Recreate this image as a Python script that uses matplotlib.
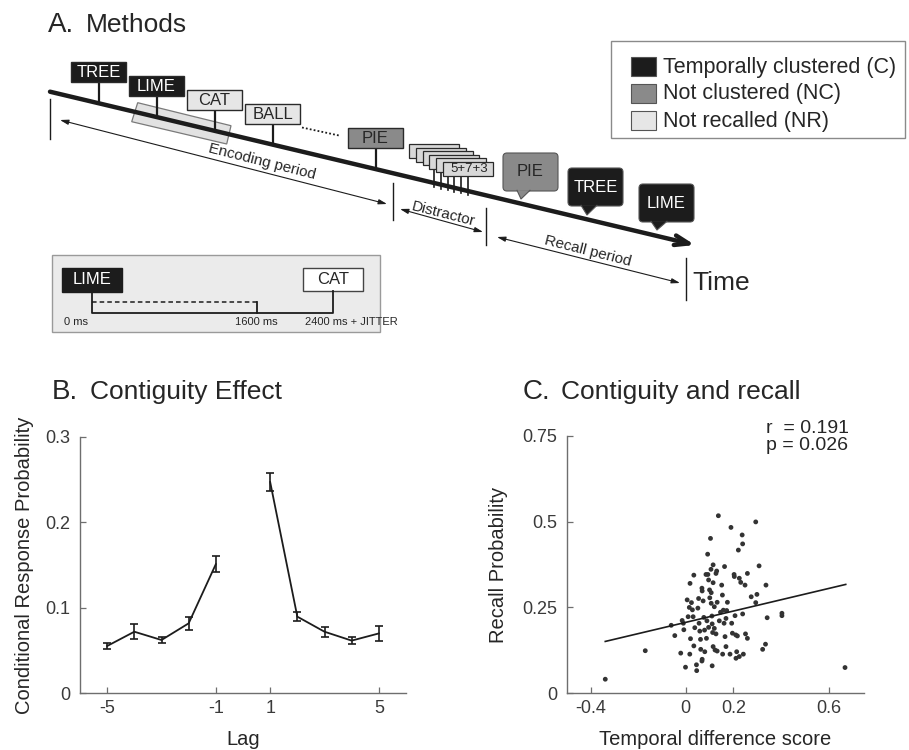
import numpy as np
import matplotlib
matplotlib.use("Agg")
import matplotlib.pyplot as plt
from matplotlib.patches import Rectangle, Polygon, FancyBboxPatch

plt.rcParams['font.family'] = ['Liberation Sans', 'DejaVu Sans']

# ---------------- data ----------------
lags = [-5, -4, -3, -2, -1, 1, 2, 3, 4, 5]
crp = [0.0553, 0.072, 0.0623, 0.0818, 0.151, 0.247, 0.0896, 0.072, 0.0616, 0.070]
crp_err = [0.004, 0.0088, 0.004, 0.0078, 0.0097, 0.011, 0.005, 0.006, 0.004, 0.0086]
lag_ticks = [-5, -1, 1, 5]

tds = [-0.338, -0.170, -0.061, -0.046, -0.021, -0.015, -0.010, -0.008, -0.001, 0.006,
       0.010, 0.015, 0.018, 0.020, 0.017, 0.024, 0.028, 0.034, 0.031, 0.034,
       0.038, 0.045, 0.046, 0.051, 0.054, 0.056, 0.059, 0.062, 0.063, 0.068,
       0.069, 0.069, 0.068, 0.073, 0.076, 0.079, 0.080, 0.085, 0.087, 0.089,
       0.092, 0.093, 0.096, 0.096, 0.100, 0.101, 0.104, 0.106, 0.107, 0.107,
       0.110, 0.111, 0.113, 0.111, 0.115, 0.115, 0.115, 0.120, 0.120, 0.123,
       0.127, 0.127, 0.130, 0.132, 0.132, 0.137, 0.141, 0.146, 0.151, 0.154,
       0.155, 0.158, 0.161, 0.163, 0.165, 0.169, 0.169, 0.172, 0.175, 0.186,
       0.190, 0.193, 0.196, 0.203, 0.204, 0.207, 0.210, 0.211, 0.214, 0.217,
       0.221, 0.225, 0.225, 0.231, 0.237, 0.239, 0.239, 0.242, 0.249, 0.251,
       0.259, 0.259, 0.275, 0.294, 0.294, 0.299, 0.308, 0.323, 0.335, 0.337,
       0.342, 0.404, 0.404, 0.669]
recall = [0.041, 0.124, 0.198, 0.168, 0.117, 0.212, 0.204, 0.185, 0.076, 0.272,
          0.223, 0.250, 0.320, 0.159, 0.114, 0.264, 0.243, 0.344, 0.223, 0.138,
          0.191, 0.083, 0.066, 0.248, 0.276, 0.204, 0.181, 0.157, 0.128, 0.306,
          0.298, 0.099, 0.094, 0.269, 0.221, 0.184, 0.121, 0.346, 0.160, 0.211,
          0.405, 0.346, 0.330, 0.192, 0.301, 0.278, 0.451, 0.361, 0.293, 0.262,
          0.225, 0.202, 0.177, 0.080, 0.374, 0.322, 0.136, 0.189, 0.252, 0.126,
          0.349, 0.173, 0.356, 0.265, 0.123, 0.517, 0.211, 0.236, 0.315, 0.286,
          0.114, 0.242, 0.204, 0.369, 0.165, 0.136, 0.218, 0.241, 0.265, 0.114,
          0.483, 0.204, 0.175, 0.346, 0.340, 0.226, 0.170, 0.102, 0.121, 0.167,
          0.417, 0.335, 0.107, 0.323, 0.461, 0.435, 0.231, 0.114, 0.315, 0.173,
          0.349, 0.160, 0.281, 0.499, 0.264, 0.288, 0.371, 0.128, 0.143, 0.315,
          0.220, 0.233, 0.226, 0.075]
fit_x = [-0.338, 0.672]
fit_y = [0.151, 0.317]
tds_ticks = [-0.4, 0, 0.2, 0.6]
tds_ticklabels = ['-0.4', '0', '0.2', '0.6']
rec_ticks = [0, 0.25, 0.5, 0.75]
rec_ticklabels = ['0', '0.25', '0.5', '0.75']
stat_lines = ['r  = 0.191', 'p = 0.026']

legend_labels = ['Temporally clustered (C)', 'Not clustered (NC)', 'Not recalled (NR)']

# ---------------- figure ----------------
W, H = 909, 750
fig = plt.figure(figsize=(W / 100, H / 100), dpi=100)

BLACK = '#1c1c1c'
MID = '#8a8a8a'
LIGHT = '#e6e6e6'
EDGE = '#2a2a2a'
AXC = '#6e6e6e'
TXT = '#262626'

# overlay axes in pixel coordinates for panel A and titles
ov = fig.add_axes([0, 0, 1, 1])
ov.set_xlim(0, W)
ov.set_ylim(H, 0)
ov.axis('off')

# titles
ov.text(48, 25, 'A.', fontsize=20, va='center', ha='left', color=TXT)
ov.text(86, 25, 'Methods', fontsize=19, va='center', ha='left', color=TXT)
ov.text(52, 392, 'B.', fontsize=20, va='center', ha='left', color=TXT)
ov.text(90, 392, 'Contiguity Effect', fontsize=19, va='center', ha='left', color=TXT)
ov.text(523, 392, 'C.', fontsize=20, va='center', ha='left', color=TXT)
ov.text(561, 392, 'Contiguity and recall', fontsize=19, va='center', ha='left', color=TXT)

# timeline
x0, y0, x1, y1 = 50, 91.7, 695, 245
slope = (y1 - y0) / (x1 - x0)
def line_y(x):
    return y0 + slope * (x - x0)

# highlight rectangle behind line
ov.add_patch(Polygon([(131.7, 121.7), (137.7, 102.7), (231, 125.7), (226.7, 144)],
                     closed=True, facecolor='#e2e2e2', edgecolor='#7a7a7a', lw=0.9, zorder=1))

ov.annotate('', xy=(x1, y1), xytext=(x0, y0),
            arrowprops=dict(arrowstyle='->,head_length=1.0,head_width=0.35', lw=3.2,
                            color=BLACK, shrinkA=0, shrinkB=0), zorder=3)

def word_box(xl, yt, w, h, label, fc, tc, ec=EDGE):
    ov.add_patch(Rectangle((xl, yt), w, h, facecolor=fc, edgecolor=ec, lw=1.0, zorder=4))
    ov.text(xl + w / 2, yt + h / 2 + 0.5, label, ha='center', va='center', fontsize=12,
            color=tc, zorder=5)
    xs = xl + w / 2
    ov.plot([xs, xs], [yt + h, line_y(xs)], color=BLACK, lw=1.6, zorder=2)

word_box(71, 62, 55, 20, 'TREE', BLACK, 'white')
word_box(129, 76, 55, 20, 'LIME', BLACK, 'white')
word_box(187, 90, 55, 20, 'CAT', LIGHT, TXT)
word_box(245, 104, 55, 20, 'BALL', LIGHT, TXT)
word_box(348, 128, 55, 20, 'PIE', MID, TXT)

ov.plot([302, 339], [127.5, 135.5], color=BLACK, lw=1.3, ls=(0, (1, 1.2)), zorder=2)

# distractor cards
stem_xs = [434, 441, 448, 454, 461, 468]
for sx in stem_xs:
    ov.plot([sx, sx], [168, line_y(sx) + 4], color=BLACK, lw=1.2, zorder=2)
for i in range(6):
    cx = 409 + 6.8 * i
    cy = 144 + 3.6 * i
    ov.add_patch(Rectangle((cx, cy), 50, 14, facecolor='#d8d8d8', edgecolor=EDGE, lw=0.9,
                           zorder=4 + i * 0.01))
ov.text(443 + 26, 162 + 7.3, '5+7+3', ha='center', va='center', fontsize=9.5, color=TXT, zorder=5)

# speech bubbles
def bubble(xl, yt, w, h, label, fc, tc, tail):
    ov.add_patch(FancyBboxPatch((xl + 3, yt + 3), w - 6, h - 6,
                                boxstyle='round,pad=3,rounding_size=4',
                                facecolor=fc, edgecolor='#555555', lw=0.8, zorder=6))
    ov.add_patch(Polygon(tail, closed=True, facecolor=fc, edgecolor='none', zorder=6.5))
    ov.plot([tail[0][0], tail[2][0], tail[1][0]], [tail[0][1], tail[2][1], tail[1][1]],
            color='#555555', lw=0.8, zorder=6.6)
    ov.text(xl + w / 2, yt + h / 2, label, ha='center', va='center', fontsize=12, color=tc, zorder=7)

bubble(503, 153, 55, 38, 'PIE', MID, TXT, [(517, 190.3), (530, 190.3), (521, 199)])
bubble(568, 168, 55, 38, 'TREE', BLACK, 'white', [(581, 205.3), (597, 205.3), (587, 215)])
bubble(639, 184, 55, 38, 'LIME', BLACK, 'white', [(651, 221.3), (667, 221.3), (657, 230)])

# period arrows
arr = dict(arrowstyle='<|-|>,head_length=0.5,head_width=0.15', lw=0.8, color=BLACK,
           shrinkA=0, shrinkB=0)
ov.annotate('', xy=(60, 120), xytext=(387, 204), arrowprops=arr)
ov.annotate('', xy=(400, 209), xytext=(483, 232), arrowprops=arr)
ov.annotate('', xy=(497, 237), xytext=(680, 283), arrowprops=arr)
ov.plot([50, 50], [99, 139], color=BLACK, lw=1.0)
ov.plot([393, 393], [183, 220], color=BLACK, lw=1.0)
ov.plot([486, 486], [208, 245], color=BLACK, lw=1.0)
ov.plot([686, 686], [258, 300], color=BLACK, lw=1.0)

rot = -14.2
ov.text(262, 162, 'Encoding period', rotation=rot, rotation_mode='anchor',
        ha='center', va='center', fontsize=11, color=TXT)
ov.text(443, 214, 'Distractor', rotation=rot, rotation_mode='anchor',
        ha='center', va='center', fontsize=11, color=TXT)
ov.text(588, 251, 'Recall period', rotation=rot, rotation_mode='anchor',
        ha='center', va='center', fontsize=11, color=TXT)
ov.text(692, 283, 'Time', ha='left', va='center', fontsize=19, color=TXT)

# legend box
ov.add_patch(Rectangle((611, 41), 294, 97, facecolor='white', edgecolor='#8a8a8a', lw=1.0))
leg_y = [67, 94, 121]
leg_fc = [BLACK, MID, LIGHT]
for ly, fc, lab in zip(leg_y, leg_fc, legend_labels):
    ov.add_patch(Rectangle((631, ly - 10), 25, 19, facecolor=fc, edgecolor='#555555', lw=0.8))
    ov.text(663, ly, lab, ha='left', va='center', fontsize=15.5, color=TXT)

# inset
ov.add_patch(Rectangle((51.7, 255), 328, 76.7, facecolor='#ebebeb', edgecolor='#9a9a9a', lw=1.0))
ov.add_patch(Rectangle((61.7, 268.3), 60, 23.4, facecolor=BLACK, edgecolor=BLACK, lw=1.0))
ov.text(91.7, 280, 'LIME', ha='center', va='center', fontsize=12, color='white')
ov.add_patch(Rectangle((302.7, 268.3), 60, 22.4, facecolor='white', edgecolor='#444444', lw=1.0))
ov.text(332.7, 279.5, 'CAT', ha='center', va='center', fontsize=12, color=TXT)
ov.plot([91.7, 91.7, 333.3, 333.3], [291.7, 312.7, 312.7, 290.7], color=BLACK, lw=1.3)
ov.plot([256.7, 256.7], [312.7, 302], color=BLACK, lw=1.3)
ov.plot([91.7, 256.7], [301.7, 301.7], color=BLACK, lw=1.1, ls=(0, (3, 2)))
ov.text(75.8, 322, '0 ms', ha='center', va='center', fontsize=8, color=TXT)
ov.text(256.7, 322, '1600 ms', ha='center', va='center', fontsize=8, color=TXT)
ov.text(305, 322, '2400 ms + JITTER', ha='left', va='center', fontsize=8, color=TXT)

# ---------------- panel B ----------------
def style_axes(ax):
    for s in ['top', 'right']:
        ax.spines[s].set_visible(False)
    for s in ['left', 'bottom']:
        ax.spines[s].set_color(AXC)
        ax.spines[s].set_linewidth(1.0)
    ax.tick_params(direction='in', length=4, width=0.9, color=AXC, labelsize=13,
                   labelcolor='#3a3a3a')
    ax.tick_params(axis='y', pad=7)
    ax.tick_params(axis='x', pad=5)
    ax.patch.set_alpha(0)

axB = fig.add_axes([80 / W, 1 - 693.3 / H, (406 - 80) / W, (693.3 - 436.7) / H])
style_axes(axB)
lags_a = np.array(lags)
crp_a = np.array(crp)
err_a = np.array(crp_err)
neg = lags_a < 0
pos = lags_a > 0
for m in [neg, pos]:
    axB.errorbar(lags_a[m], crp_a[m], yerr=err_a[m], color=BLACK, lw=1.3,
                 elinewidth=1.2, capsize=2.6, capthick=1.2)
axB.set_xlim(-6, 6)
axB.set_ylim(0, 0.3)
axB.set_xticks(lag_ticks)
axB.set_xticklabels([str(t) for t in lag_ticks])
axB.set_yticks([0, 0.1, 0.2, 0.3])
axB.set_yticklabels(['0', '0.1', '0.2', '0.3'])
axB.set_xlabel('Lag', fontsize=14.5, color=TXT, labelpad=9)
axB.set_ylabel('Conditional Response Probability', fontsize=14.5, color=TXT, labelpad=8)

# ---------------- panel C ----------------
axC = fig.add_axes([566.7 / W, 1 - 693.3 / H, (864.3 - 566.7) / W, (693.3 - 435.7) / H])
style_axes(axC)
axC.scatter(tds, recall, s=12, color='#333333', edgecolors='none', zorder=3)
axC.plot(fit_x, fit_y, color=BLACK, lw=1.2, zorder=4)
axC.set_xlim(-0.5, 0.75)
axC.set_ylim(0, 0.75)
axC.set_xticks(tds_ticks)
axC.set_xticklabels(tds_ticklabels)
axC.set_yticks(rec_ticks)
axC.set_yticklabels(rec_ticklabels)
axC.set_xlabel('Temporal difference score', fontsize=14.5, color=TXT, labelpad=9)
axC.set_ylabel('Recall Probability', fontsize=14.5, color=TXT, labelpad=10)
axC.text(0.336, 0.772, stat_lines[0], fontsize=14, color=TXT, ha='left', va='center')
axC.text(0.336, 0.722, stat_lines[1], fontsize=14, color=TXT, ha='left', va='center')

fig.savefig('out.png', dpi=100)
